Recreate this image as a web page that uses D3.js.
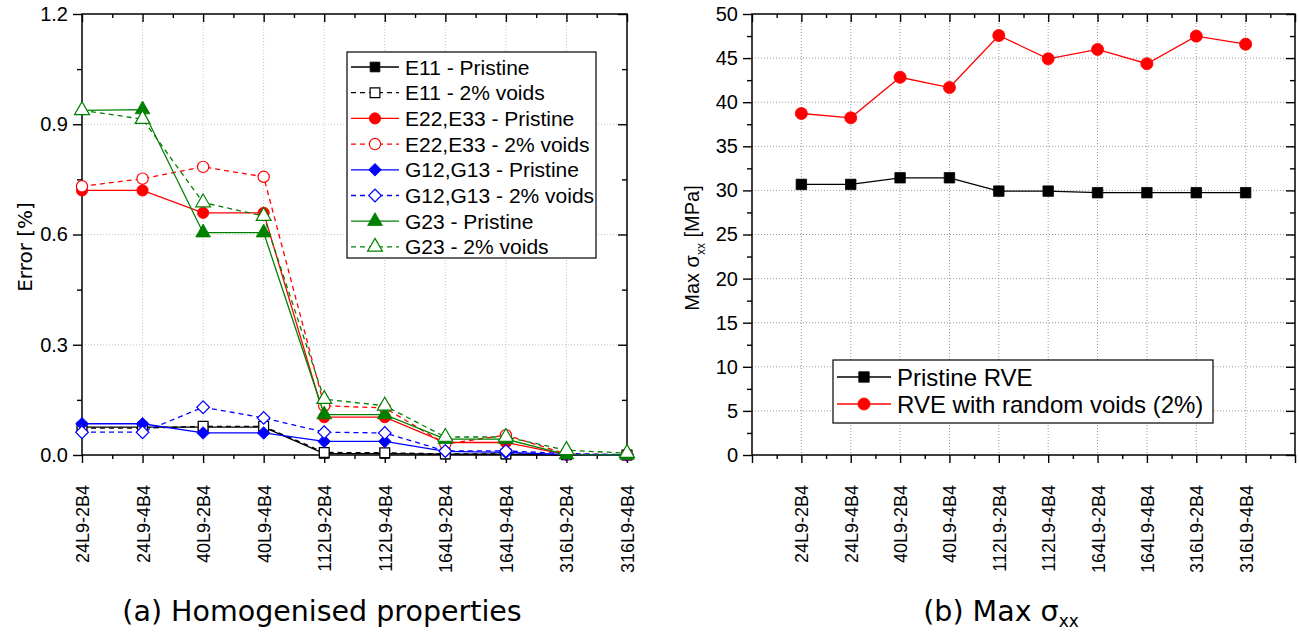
<!DOCTYPE html>
<html lang="en">
<head>
<meta charset="UTF-8">
<script src="https://cdn.jsdelivr.net/npm/d3@7/dist/d3.min.js"></script>
<style>
  body { margin: 0; background: #fff; }
</style>
</head>
<body>
<script>
  var cats = ["24L9-2B4", "24L9-4B4", "40L9-2B4", "40L9-4B4", "112L9-2B4",
              "112L9-4B4", "164L9-2B4", "164L9-4B4", "316L9-2B4", "316L9-4B4"];

  // (a) error in homogenised properties [%]
  var e11Pristine = [0.076, 0.076, 0.076, 0.076, 0.004, 0.004, 0.002, 0.002, 0.000, 0.000];
  var e11Voids    = [0.073, 0.073, 0.078, 0.078, 0.007, 0.006, 0.003, 0.003, 0.001, 0.000];
  var e22Pristine = [0.720, 0.720, 0.659, 0.659, 0.103, 0.103, 0.034, 0.034, 0.001, 0.000];
  var e22Voids    = [0.731, 0.752, 0.784, 0.757, 0.134, 0.128, 0.030, 0.054, 0.003, 0.000];
  var g12Pristine = [0.085, 0.085, 0.060, 0.060, 0.037, 0.037, 0.010, 0.007, 0.001, 0.000];
  var g12Voids    = [0.062, 0.062, 0.130, 0.101, 0.062, 0.060, 0.011, 0.011, 0.004, 0.001];
  var g23Pristine = [0.938, 0.940, 0.605, 0.605, 0.110, 0.110, 0.043, 0.043, 0.001, 0.000];
  var g23Voids    = [0.938, 0.914, 0.687, 0.650, 0.152, 0.134, 0.049, 0.049, 0.013, 0.005];

  // (b) max sigma_xx [MPa]
  var pristineRVE = [30.68, 30.68, 31.43, 31.43, 29.92, 29.92, 29.74, 29.74, 29.74, 29.74];
  var voidsRVE    = [38.72, 38.23, 42.83, 41.66, 47.56, 44.92, 45.98, 44.36, 47.49, 46.58];

  var errTicks = [0, 0.3, 0.6, 0.9, 1.2];
  var sigTicks = [0, 5, 10, 15, 20, 25, 30, 35, 40, 45, 50];

  var ARIAL = "'Liberation Sans', Arial, sans-serif";
  var VERD = "'DejaVu Sans', Verdana, sans-serif";
  var RED = "#ff0000", BLUE = "#0000ff", GREEN = "#008000", BLACK = "#000000";

  var leftSeries = [
    {name: "E11 - Pristine",        v: e11Pristine, c: BLACK, s: "square",   fill: true,  dash: false},
    {name: "E11 - 2% voids",        v: e11Voids,    c: BLACK, s: "square",   fill: false, dash: true},
    {name: "E22,E33 - Pristine",    v: e22Pristine, c: RED,   s: "circle",   fill: true,  dash: false},
    {name: "E22,E33 - 2% voids",    v: e22Voids,    c: RED,   s: "circle",   fill: false, dash: true},
    {name: "G12,G13 - Pristine",    v: g12Pristine, c: BLUE,  s: "diamond",  fill: true,  dash: false},
    {name: "G12,G13 - 2% voids",    v: g12Voids,    c: BLUE,  s: "diamond",  fill: false, dash: true},
    {name: "G23 - Pristine",        v: g23Pristine, c: GREEN, s: "triangle", fill: true,  dash: false},
    {name: "G23 - 2% voids",        v: g23Voids,    c: GREEN, s: "triangle", fill: false, dash: true}
  ];
  var rightSeries = [
    {name: "Pristine RVE",               v: pristineRVE, c: BLACK, s: "square", fill: true, dash: false},
    {name: "RVE with random voids (2%)", v: voidsRVE,    c: RED,   s: "circle", fill: true, dash: false}
  ];

  var svg = d3.select("body").append("svg")
    .attr("width", 1299)
    .attr("height", 632);

  function symbolFor(s, k) {
    k = k || 1;
    if (s === "circle") return d3.symbol(d3.symbolCircle, 100 * k)();
    if (s === "square") return d3.symbol(d3.symbolSquare, 95 * k)();
    if (s === "triangle") return d3.symbol(d3.symbolTriangle, 95 * k)();
    return d3.symbol(d3.symbolSquare, 80 * k)();   // diamond = rotated square
  }

  function drawMarker(g, sr, x, y, k) {
    g.append("path")
      .attr("d", symbolFor(sr.s, k))
      .attr("transform", "translate(" + x + "," + y + ")" + (sr.s === "diamond" ? " rotate(45)" : ""))
      .attr("fill", sr.fill ? sr.c : "#fff")
      .attr("stroke", sr.c)
      .attr("stroke-width", sr.fill ? 0.8 : 1.2);
  }

  function styleAxis(g, size) {
    g.select(".domain").remove();
    g.selectAll("line").attr("stroke", "#000").attr("stroke-width", 1.4);
    g.attr("font-family", ARIAL).attr("font-size", size || 20);
    g.selectAll("text").attr("fill", "#000");
  }

  function chart(opt) {
    var g = svg.append("g");
    var x = opt.x, y = opt.y;
    var x0 = x.range()[0], x1 = x.range()[1], yb = y.range()[0], yt = y.range()[1];

    // grid
    g.append("g").selectAll("line").data(opt.gridX).enter().append("line")
      .attr("x1", function(d) { return x(d); }).attr("x2", function(d) { return x(d); })
      .attr("y1", yt).attr("y2", yb)
      .attr("stroke", opt.gridColor).attr("stroke-width", 1).attr("stroke-dasharray", "1,2");
    g.append("g").selectAll("line").data(opt.gridY).enter().append("line")
      .attr("y1", function(d) { return y(d); }).attr("y2", function(d) { return y(d); })
      .attr("x1", x0).attr("x2", x1)
      .attr("stroke", opt.gridColor).attr("stroke-width", 1).attr("stroke-dasharray", "1,2");

    // axes
    g.append("g").attr("transform", "translate(0," + yb + ")")
      .call(d3.axisBottom(x).tickValues(opt.xMinor).tickSize(4).tickFormat(""))
      .call(styleAxis);
    var bx = g.append("g").attr("transform", "translate(0," + yb + ")")
      .call(d3.axisBottom(x).tickValues(opt.xMajor).tickSize(8).tickFormat(opt.xFormat))
      .call(styleAxis, 18);
    bx.selectAll("text")
      .attr("transform", "rotate(-90)")
      .attr("x", -30).attr("y", 0).attr("dy", "0.36em")
      .style("text-anchor", "end");
    g.append("g").attr("transform", "translate(0," + yt + ")")
      .call(d3.axisTop(x).tickValues(opt.xMinor).tickSize(-4).tickFormat(""))
      .call(styleAxis);
    g.append("g").attr("transform", "translate(0," + yt + ")")
      .call(d3.axisTop(x).tickValues(opt.xMajor).tickSize(-8).tickFormat(""))
      .call(styleAxis);

    g.append("g").attr("transform", "translate(" + x0 + ",0)")
      .call(d3.axisLeft(y).tickValues(opt.yMinor).tickSize(5).tickFormat(""))
      .call(styleAxis);
    g.append("g").attr("transform", "translate(" + x0 + ",0)")
      .call(d3.axisLeft(y).tickValues(opt.yTicks).tickSize(9).tickPadding(5).tickFormat(opt.yFormat))
      .call(styleAxis, 20);
    g.append("g").attr("transform", "translate(" + x1 + ",0)")
      .call(d3.axisRight(y).tickValues(opt.yMinor).tickSize(-5).tickFormat(""))
      .call(styleAxis);
    g.append("g").attr("transform", "translate(" + x1 + ",0)")
      .call(d3.axisRight(y).tickValues(opt.yTicks).tickSize(-9).tickFormat(""))
      .call(styleAxis);

    g.append("rect")
      .attr("x", x0).attr("y", yt).attr("width", x1 - x0).attr("height", yb - yt)
      .attr("fill", "none").attr("stroke", "#000").attr("stroke-width", 1.5);

    // series
    var line = d3.line()
      .x(function(d, i) { return x(i + opt.offset); })
      .y(function(d) { return y(d); });
    opt.series.forEach(function(sr) {
      var sg = g.append("g");
      sg.append("path").datum(sr.v)
        .attr("d", line)
        .attr("fill", "none")
        .attr("stroke", sr.c)
        .attr("stroke-width", 1.3)
        .attr("stroke-dasharray", sr.dash ? "5,4" : null);
      sr.v.forEach(function(d, i) {
        drawMarker(sg, sr, x(i + opt.offset), y(d), opt.mk);
      });
    });

    // legend
    var lg = g.append("g");
    var b = opt.legend;
    lg.append("rect")
      .attr("x", b.x).attr("y", b.y).attr("width", b.w).attr("height", b.h)
      .attr("fill", "#fff").attr("stroke", "#000").attr("stroke-width", 1.2);
    opt.series.forEach(function(sr, i) {
      var ly = b.y + b.first + i * b.step;
      lg.append("line")
        .attr("x1", b.x + 4).attr("x2", b.x + 4 + b.len)
        .attr("y1", ly).attr("y2", ly)
        .attr("stroke", sr.c).attr("stroke-width", 1.3)
        .attr("stroke-dasharray", sr.dash ? "5,4" : null);
      drawMarker(lg, sr, b.x + 4 + b.len / 2, ly, opt.mk);
      lg.append("text")
        .attr("x", b.x + b.len + 10).attr("y", ly)
        .attr("dy", "0.36em")
        .attr("font-family", ARIAL).attr("font-size", b.font)
        .text(sr.name);
    });
    return g;
  }

  // ---- (a) ----
  var xL = d3.scaleLinear().domain([0, cats.length - 1]).range([82, 627]);
  var yL = d3.scaleLinear().domain([0, 1.2]).range([455, 14]);
  chart({
    x: xL, y: yL, offset: 0, mk: 1,
    series: leftSeries,
    gridX: d3.range(1, cats.length - 1),
    gridY: [0.3, 0.6, 0.9],
    gridColor: "#c4c4c4",
    xMajor: d3.range(cats.length),
    xMinor: d3.range(0.5, cats.length - 1, 1),
    xFormat: function(i) { return cats[i]; },
    yTicks: errTicks,
    yMinor: [0.15, 0.45, 0.75, 1.05],
    yFormat: d3.format(".1f"),
    legend: {x: 347, y: 52, w: 249, h: 206, first: 15, step: 25.7, len: 48, font: 21}
  });

  svg.append("text")
    .attr("transform", "translate(32,247) rotate(-90)")
    .attr("text-anchor", "middle")
    .attr("font-family", VERD).attr("font-size", 20)
    .text("Error [%]");

  svg.append("text")
    .attr("x", 322).attr("y", 621)
    .attr("text-anchor", "middle")
    .attr("font-family", VERD).attr("font-size", 28.5)
    .text("(a) Homogenised properties");

  // ---- (b) ----
  var xR = d3.scaleLinear().domain([0, cats.length + 1]).range([752, 1295]);
  var yR = d3.scaleLinear().domain([0, 50]).range([455, 14]);
  chart({
    x: xR, y: yR, offset: 1, mk: 1.15,
    series: rightSeries,
    gridX: d3.range(1, cats.length + 1),
    gridY: sigTicks.slice(1, -1),
    gridColor: "#9a9a9a",
    xMajor: d3.range(0, cats.length + 2),
    xMinor: d3.range(0.5, cats.length + 1, 1),
    xFormat: function(i) { return (i >= 1 && i <= cats.length) ? cats[i - 1] : ""; },
    yTicks: sigTicks,
    yMinor: d3.range(2.5, 50, 5),
    yFormat: d3.format("d"),
    legend: {x: 833, y: 360, w: 380, h: 63, first: 17, step: 27, len: 54, font: 24}
  });

  var yt = svg.append("text")
    .attr("transform", "translate(699,248) rotate(-90)")
    .attr("text-anchor", "middle")
    .attr("font-family", ARIAL).attr("font-size", 20);
  yt.append("tspan").text("Max \u03c3");
  yt.append("tspan").attr("font-size", 12).attr("dy", 6).text("xx");
  yt.append("tspan").attr("dy", -6).text(" [MPa]");

  var cap = svg.append("text")
    .attr("x", 1001).attr("y", 621)
    .attr("text-anchor", "middle")
    .attr("font-family", VERD).attr("font-size", 28.5);
  cap.append("tspan").text("(b) Max \u03c3");
  cap.append("tspan").attr("font-size", 17).attr("dy", 6).text("xx");
</script>
</body>
</html>
